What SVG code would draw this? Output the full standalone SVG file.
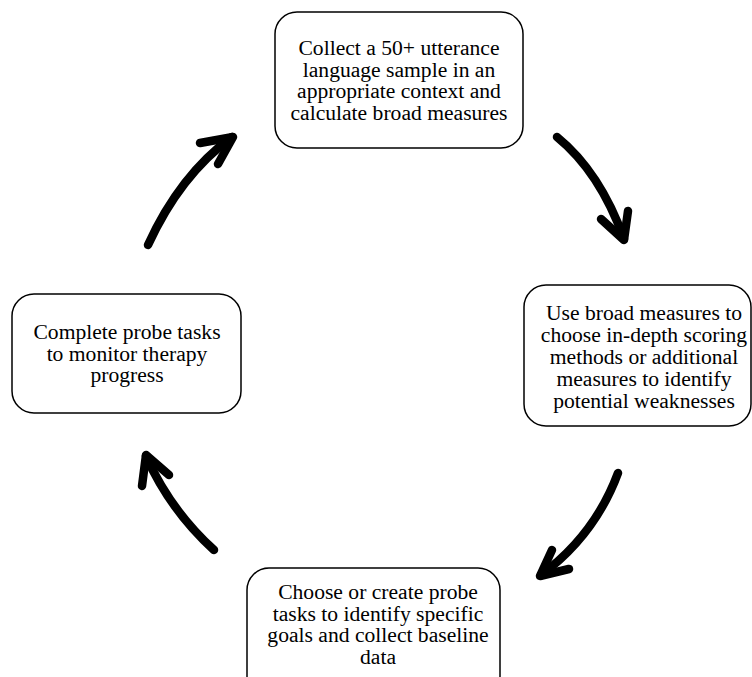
<svg xmlns="http://www.w3.org/2000/svg" width="752" height="677" viewBox="0 0 752 677">
<style>
.box{fill:#fff;stroke:#000;stroke-width:1.5}
.t{font-family:"Liberation Serif","Times New Roman",serif;font-size:21.6px;fill:#000;text-anchor:middle}
.arr{fill:none;stroke:#000;stroke-width:8.5;stroke-linecap:round;stroke-linejoin:round}
</style>
<rect width="752" height="677" fill="#fff"/>
<g id="connectors">
<path class="arr" d="M557,137 Q600,172 624,239"/>
<polyline class="arr" points="601,219 624,240 628,211"/>
<path class="arr" d="M618,473 Q595,535 541,575"/>
<polyline class="arr" points="552,550 540,576 569,569"/>
<path class="arr" d="M214,550 Q170,510 146,456"/>
<polyline class="arr" points="142,486 146,455 169,475"/>
<path class="arr" d="M148,245 Q180,175 232,137"/>
<polyline class="arr" points="200,143 233,137 218,164"/>
</g>
<g id="node1">
<rect class="box" x="275" y="12" width="248" height="136" rx="22"/>
<text class="t" x="399" y="55">Collect a 50+ utterance</text>
<text class="t" x="399" y="76.7">language sample in an</text>
<text class="t" x="399" y="98.4">appropriate context and</text>
<text class="t" x="399" y="120">calculate broad measures</text>
</g>
<g id="node2">
<rect class="box" x="524" y="285" width="227" height="141" rx="22"/>
<text class="t" x="644" y="320">Use broad measures to</text>
<text class="t" x="644" y="342">choose in-depth scoring</text>
<text class="t" x="644" y="364">methods or additional</text>
<text class="t" x="644" y="386">measures to identify</text>
<text class="t" x="644" y="408">potential weaknesses</text>
</g>
<g id="node3">
<rect class="box" x="247" y="568" width="253" height="130" rx="22"/>
<text class="t" x="378" y="599">Choose or create probe</text>
<text class="t" x="378" y="620.5">tasks to identify specific</text>
<text class="t" x="378" y="642">goals and collect baseline</text>
<text class="t" x="378" y="663.5">data</text>
</g>
<g id="node4">
<rect class="box" x="12" y="294" width="229" height="119" rx="22"/>
<text class="t" x="127" y="339">Complete probe tasks</text>
<text class="t" x="127" y="360.5">to monitor therapy</text>
<text class="t" x="127" y="382">progress</text>
</g>
</svg>
